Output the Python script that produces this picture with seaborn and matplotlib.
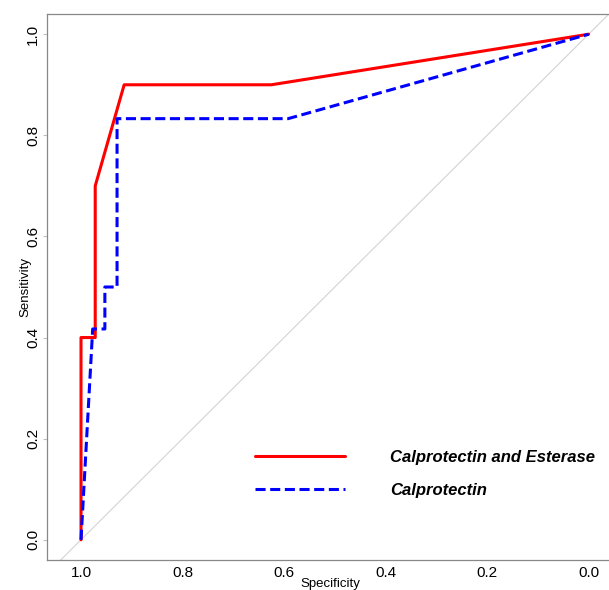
import pandas as pd
import seaborn as sns
import matplotlib
import matplotlib.pyplot as plt

matplotlib.use('Agg')

# ROC curve points (specificity, sensitivity)
combo_spec = [1.0, 1.0, 0.972, 0.972, 0.915, 0.625, 0.0]
combo_sens = [0.0, 0.4, 0.4, 0.7, 0.9, 0.9, 1.0]
calpro_spec = [1.0, 0.977, 0.953, 0.953, 0.929, 0.929, 0.592, 0.0]
calpro_sens = [0.0, 0.417, 0.417, 0.5, 0.5, 0.833, 0.833, 1.0]
ticks = [1.0, 0.8, 0.6, 0.4, 0.2, 0.0]
labels = ['Calprotectin and Esterase', 'Calprotectin']

sns.set_style("white")
plt.rcParams['font.family'] = ['Liberation Sans', 'DejaVu Sans']
plt.rcParams['text.color'] = 'black'
plt.rcParams['axes.labelcolor'] = 'black'
plt.rcParams['xtick.color'] = 'black'
plt.rcParams['ytick.color'] = 'black'

fig = plt.figure(figsize=(6.09, 5.90), dpi=100)
ax = fig.add_axes([47 / 609, 30 / 590, 566 / 609, 546 / 590])

# chance diagonal
ax.plot([1.2, -0.2], [-0.2, 1.2], color='#d3d3d3', lw=0.8, zorder=1)

df1 = pd.DataFrame({'spec': combo_spec, 'sens': combo_sens})
df2 = pd.DataFrame({'spec': calpro_spec, 'sens': calpro_sens})
sns.lineplot(data=df1, x='spec', y='sens', sort=False, estimator=None,
             color='#ff0000', lw=2.2, ax=ax, label=labels[0])
sns.lineplot(data=df2, x='spec', y='sens', sort=False, estimator=None,
             color='#0000ff', lw=2.2, ax=ax, label=labels[1])
ax.lines[-1].set_dashes((3.3, 1.5))

ax.set_xlim(1.067, -0.048)
ax.set_ylim(-0.04, 1.04)
ax.set_xticks(ticks)
ax.set_yticks(ticks)
ax.set_xticklabels([f'{t:.1f}' for t in ticks], fontsize=11)
ax.set_yticklabels([f'{t:.1f}' for t in ticks], fontsize=11, rotation=90, va='center')
ax.set_xlabel('Specificity', fontsize=9.5, labelpad=-1)
ax.set_ylabel('Sensitivity', fontsize=9.5, labelpad=-4)
ax.tick_params(axis='x', length=0, pad=4, bottom=True)
ax.tick_params(axis='y', length=3, width=0.8, color='#c0c0c0', labelcolor='black',
               direction='out', pad=2, left=True)
for s in ax.spines.values():
    s.set_color('#888888')
    s.set_linewidth(0.9)

leg = ax.legend(loc='center left', bbox_to_anchor=(240 / 609, 1 - 474 / 590),
                bbox_transform=fig.transFigure, frameon=False, handlelength=5.4,
                handletextpad=2.7, labelspacing=1.1,
                prop={'size': 12, 'weight': 'bold', 'style': 'italic'})
for t in leg.get_texts():
    t.set_color('black')

fig.savefig('out.png', dpi=100)
